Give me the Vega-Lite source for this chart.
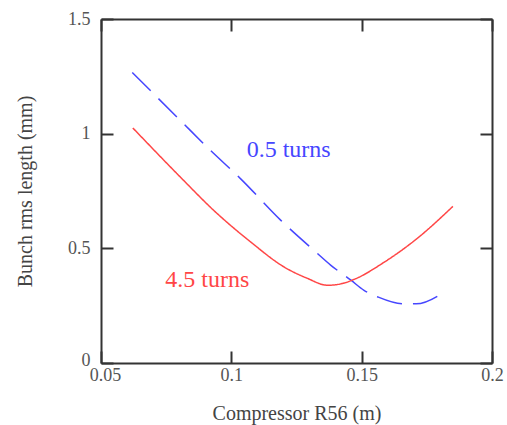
{
  "$schema": "https://vega.github.io/schema/vega-lite/v6.json",
  "autosize": "none",
  "width": 391,
  "height": 344,
  "padding": {"left": 101, "top": 19, "right": 15, "bottom": 62},
  "background": "white",
  "config": {"view": {"stroke": null}},
  "datasets": {
    "curves": [
      {"r56": 0.062, "len": 1.267, "series": "0.5 turns"},
      {"r56": 0.0805, "len": 1.057, "series": "0.5 turns"},
      {"r56": 0.0921, "len": 0.926, "series": "0.5 turns"},
      {"r56": 0.1036, "len": 0.803, "series": "0.5 turns"},
      {"r56": 0.119, "len": 0.622, "series": "0.5 turns"},
      {"r56": 0.1318, "len": 0.49, "series": "0.5 turns"},
      {"r56": 0.1382, "len": 0.426, "series": "0.5 turns"},
      {"r56": 0.1459, "len": 0.361, "series": "0.5 turns"},
      {"r56": 0.1509, "len": 0.317, "series": "0.5 turns"},
      {"r56": 0.1562, "len": 0.288, "series": "0.5 turns"},
      {"r56": 0.1658, "len": 0.258, "series": "0.5 turns"},
      {"r56": 0.1709, "len": 0.258, "series": "0.5 turns"},
      {"r56": 0.1812, "len": 0.306, "series": "0.5 turns"},
      {"r56": 0.0622, "len": 1.025, "series": "4.5 turns"},
      {"r56": 0.0805, "len": 0.81, "series": "4.5 turns"},
      {"r56": 0.0933, "len": 0.665, "series": "4.5 turns"},
      {"r56": 0.1075, "len": 0.527, "series": "4.5 turns"},
      {"r56": 0.1202, "len": 0.419, "series": "4.5 turns"},
      {"r56": 0.129, "len": 0.37, "series": "4.5 turns"},
      {"r56": 0.1369, "len": 0.339, "series": "4.5 turns"},
      {"r56": 0.142, "len": 0.345, "series": "4.5 turns"},
      {"r56": 0.1472, "len": 0.365, "series": "4.5 turns"},
      {"r56": 0.1587, "len": 0.44, "series": "4.5 turns"},
      {"r56": 0.1715, "len": 0.545, "series": "4.5 turns"},
      {"r56": 0.185, "len": 0.683, "series": "4.5 turns"}
    ],
    "labels": [
      {"r56": 0.122, "len": 0.928, "series": "0.5 turns", "text": "0.5 turns"},
      {"r56": 0.0908, "len": 0.362, "series": "4.5 turns", "text": "4.5 turns"}
    ]
  },
  "layer": [
    {
      "data": {"name": "curves"},
      "mark": {"type": "line", "strokeWidth": 1.5, "clip": false, "interpolate": "monotone"},
      "encoding": {
        "x": {
          "field": "r56", "type": "quantitative",
          "scale": {"domain": [0.05, 0.2], "nice": false, "zero": false},
          "axis": {
            "orient": "bottom", "values": [0.05, 0.1, 0.15, 0.2], "format": "~g", "title": "Compressor R56 (m)",
            "grid": false, "domainColor": "#333", "domainWidth": 2, "tickColor": "#333", "tickWidth": 2,
            "tickSize": -12, "labelPadding": 15, "labelFont": "Liberation Serif", "labelFontSize": 18,
            "labelColor": "#555", "labelFlush": false,
            "labelOffset": {"condition": {"test": "datum.value == 0.05", "value": 4}, "value": 0},
            "titleFont": "Liberation Serif", "titleFontSize": 20, "titleFontWeight": "normal", "titleColor": "#444",
            "titleX": 195.5, "titleY": 50, "titleBaseline": "middle"
          }
        },
        "y": {
          "field": "len", "type": "quantitative",
          "scale": {"domain": [0, 1.5], "nice": false},
          "axis": {
            "orient": "left", "values": [0, 0.5, 1, 1.5], "format": "~g", "title": "Bunch rms length (mm)",
            "grid": false, "domainColor": "#333", "domainWidth": 2, "tickColor": "#333", "tickWidth": 2,
            "tickSize": -12, "labelPadding": 23, "labelFont": "Liberation Serif", "labelFontSize": 18,
            "labelColor": "#555", "labelFlush": false,
            "labelOffset": {"condition": {"test": "datum.value == 0", "value": -3}, "value": 0},
            "titleFont": "Liberation Serif", "titleFontSize": 20, "titleFontWeight": "normal", "titleColor": "#444",
            "titleX": -76, "titleY": 172, "titleBaseline": "middle", "titleAlign": "center", "titleAngle": -90
          }
        },
        "color": {
          "field": "series", "type": "nominal",
          "scale": {"domain": ["0.5 turns", "4.5 turns"], "range": ["#4646ff", "#ff4646"]},
          "legend": null
        },
        "strokeDash": {
          "field": "series", "type": "nominal",
          "scale": {"domain": ["0.5 turns", "4.5 turns"], "range": [[26, 11], [1, 0]]},
          "legend": null
        }
      }
    },
    {
      "data": {"name": "labels"},
      "mark": {"type": "text", "font": "Liberation Serif", "fontSize": 24, "align": "center", "baseline": "middle"},
      "encoding": {
        "x": {
          "field": "r56", "type": "quantitative",
          "axis": {
            "orient": "top", "values": [0.05, 0.1, 0.15, 0.2], "title": null, "labels": false,
            "grid": false, "domainColor": "#333", "domainWidth": 2, "tickColor": "#333", "tickWidth": 2,
            "tickSize": -12
          }
        },
        "y": {
          "field": "len", "type": "quantitative",
          "axis": {
            "orient": "right", "values": [0, 0.5, 1, 1.5], "title": null, "labels": false,
            "grid": false, "domainColor": "#333", "domainWidth": 2, "tickColor": "#333", "tickWidth": 2,
            "tickSize": -12
          }
        },
        "text": {"field": "text"},
        "color": {"field": "series", "type": "nominal", "legend": null}
      }
    }
  ],
  "resolve": {"axis": {"x": "independent", "y": "independent"}}
}
